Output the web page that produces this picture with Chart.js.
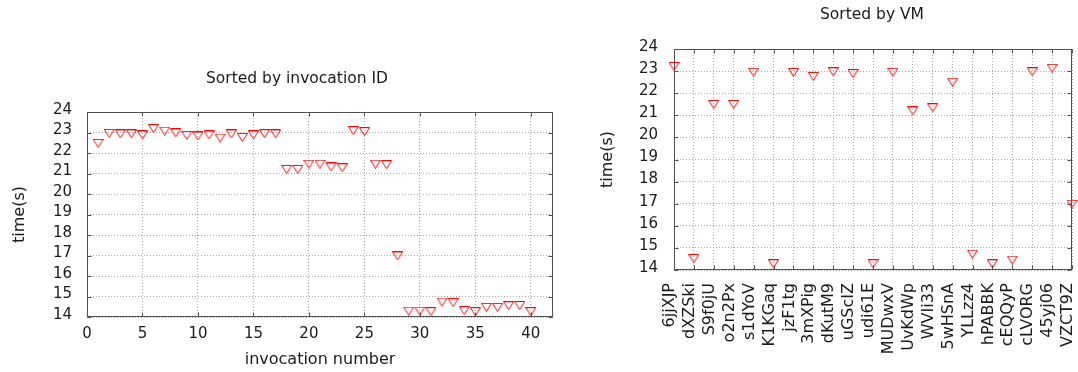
<!DOCTYPE html>
<html>
<head>
<meta charset="utf-8">
<script src="https://cdn.jsdelivr.net/npm/chart.js@4.4.1/dist/chart.umd.min.js"></script>
<style>
    html, body { margin: 0; padding: 0; background: #fff; }
    #wrap { position: relative; width: 1078px; height: 372px; overflow: hidden; }
    canvas { position: absolute; top: 0; }
    #chart-left  { left: 0; }
    #chart-right { left: 580px; }
</style>
</head>
<body>
<div id="wrap">
    <canvas id="chart-left" width="580" height="372"></canvas>
    <canvas id="chart-right" width="498" height="372"></canvas>
</div>
<script>
// ── Data ─────────────────────────────────────────────────────
const invocationNumbers = [1, 2, 3, 4, 5, 6, 7, 8, 9, 10, 11, 12, 13, 14, 15, 16, 17, 18, 19, 20,
                           21, 22, 23, 24, 25, 26, 27, 28, 29, 30, 31, 32, 33, 34, 35, 36, 37, 38, 39, 40];
const invocationTimes   = [22.47, 22.96, 22.93, 22.93, 22.88, 23.19, 23.07, 22.98, 22.86, 22.83,
                           22.88, 22.73, 22.93, 22.76, 22.88, 22.94, 22.93, 21.20, 21.20, 21.46,
                           21.46, 21.32, 21.28, 23.09, 23.04, 21.46, 21.43, 16.98, 14.29, 14.29,
                           14.26, 14.73, 14.70, 14.31, 14.26, 14.47, 14.47, 14.55, 14.56, 14.26];

const vmNames = ['6jjXJP', 'dXZSki', 'S9f0jU', 'o2n2Px', 's1dYoV', 'K1KGaq', 'jzF1tg', '3mXPig',
                 'dKutM9', 'uGScIZ', 'udi61E', 'MUDwxV', 'UvKdWp', 'WVIi33', '5wHSnA', 'YLLzz4',
                 'hPABBK', 'cEQQyP', 'cLVORG', '45yj06', 'VZCT9Z'];
const vmTimes = [23.21, 14.52, 21.49, 21.49, 22.95, 14.28, 22.94, 22.76, 22.97, 22.89, 14.28,
                 22.95, 21.20, 21.34, 22.50, 14.72, 14.28, 14.45, 22.97, 23.13, 16.98];

const timeTicks = { min: 14, max: 24, step: 1 };
const invTicks  = { min: 0, max: 42, step: 5 };

// ── Common look ──────────────────────────────────────────────
const FAMILY = "'DejaVu Sans', Verdana, sans-serif";
const TICK_FONT  = { family: FAMILY, size: 15 };
const VM_FONT    = { family: FAMILY, size: 16 };
const TITLE_FONT = { family: FAMILY, size: 16 };
const TEXT = '#1a1a1a';
const GRID = '#a8a8a8';
const BORDER = '#505050';
Chart.defaults.font.family = FAMILY;
Chart.defaults.color = TEXT;

// hollow down-triangle marker, gnuplot style
const marker = document.createElement('canvas');
marker.width = 11; marker.height = 9;
(() => {
    const c = marker.getContext('2d');
    c.strokeStyle = '#ff0000';
    c.lineWidth = 1;
    c.beginPath();
    c.moveTo(0.5, 0.5); c.lineTo(10.5, 0.5); c.lineTo(5.5, 8.5); c.closePath();
    c.stroke();
})();

// box round the plot + small inward ticks on all four sides
const frame = {
    id: 'frame',
    beforeDatasetsDraw(chart) {
        const { ctx, chartArea: a, scales } = chart;
        const px = v => Math.round(v) + 0.5;
        const L = px(a.left), R = px(a.right) - 1, T = px(a.top), B = px(a.bottom) - 1;
        ctx.save();
        ctx.strokeStyle = BORDER;
        ctx.lineWidth = 1;
        ctx.beginPath();
        scales.y.ticks.forEach((t, i) => {
            const y = px(scales.y.getPixelForTick(i));
            ctx.moveTo(L, y); ctx.lineTo(L + 4, y);
            ctx.moveTo(R, y); ctx.lineTo(R - 4, y);
        });
        scales.x.ticks.forEach((t, i) => {
            const x = px(scales.x.getPixelForTick(i));
            ctx.moveTo(x, B); ctx.lineTo(x, B - 4);
            ctx.moveTo(x, T); ctx.lineTo(x, T + 4);
        });
        ctx.stroke();
        ctx.strokeRect(L, T, R - L, B - T);
        ctx.restore();
    }
};

// plot title at a fixed spot (gnuplot centres it on the page, not the plot)
const fixedTitle = {
    id: 'fixedTitle',
    afterDraw(chart, args, opts) {
        const ctx = chart.ctx;
        ctx.save();
        ctx.font = `15.5px ${FAMILY}`;
        ctx.fillStyle = TEXT;
        ctx.textAlign = 'center';
        ctx.textBaseline = 'middle';
        ctx.fillText(opts.text, opts.x, opts.y);
        ctx.restore();
    }
};

const dotted = { color: GRID, lineWidth: 1, drawTicks: false };
const noBorder = { display: false, dash: [1, 2] };

// ── Left: sorted by invocation ID ────────────────────────────
new Chart(document.getElementById('chart-left'), {
    type: 'scatter',
    data: {
        datasets: [{
            data: invocationNumbers.map((n, i) => ({ x: n, y: invocationTimes[i] })),
            pointStyle: marker, pointRadius: 5, pointHoverRadius: 5
        }]
    },
    options: {
        responsive: false, animation: false, events: [],
        layout: { padding: { top: 112, right: 27, left: 0, bottom: 0 } },
        plugins: {
            legend: { display: false }, tooltip: { enabled: false },
            fixedTitle: { text: 'Sorted by invocation ID', x: 297, y: 79 }
        },
        scales: {
            x: {
                type: 'linear', min: invTicks.min, max: invTicks.max,
                grid: dotted, border: noBorder,
                ticks: { stepSize: invTicks.step, includeBounds: false, padding: 8, font: TICK_FONT },
                title: { display: true, text: 'invocation number', font: TITLE_FONT, padding: { top: 0, bottom: 3 } },
                afterFit(s) { s.height = 55; s.paddingLeft = 0; s.paddingRight = 0; }
            },
            y: {
                min: timeTicks.min, max: timeTicks.max,
                grid: dotted, border: noBorder,
                ticks: { stepSize: timeTicks.step, autoSkip: false, padding: 15, labelOffset: -2, font: TICK_FONT },
                title: { display: true, text: 'time(s)', font: TITLE_FONT, padding: { top: 10, bottom: 0 } },
                afterFit(s) { s.width = 87; s.paddingTop = 0; s.paddingBottom = 0; }
            }
        }
    },
    plugins: [frame, fixedTitle]
});

// ── Right: sorted by VM ──────────────────────────────────────
new Chart(document.getElementById('chart-right'), {
    type: 'line',
    data: {
        labels: vmNames,
        datasets: [{
            data: vmTimes, showLine: false,
            pointStyle: marker, pointRadius: 5, pointHoverRadius: 5
        }]
    },
    options: {
        responsive: false, animation: false, events: [],
        layout: { padding: { top: 49, right: 4, left: 0, bottom: 0 } },
        plugins: {
            legend: { display: false }, tooltip: { enabled: false },
            fixedTitle: { text: 'Sorted by VM', x: 292, y: 15 }
        },
        scales: {
            x: {
                type: 'category', offset: false,
                grid: { ...dotted, offset: false }, border: noBorder,
                ticks: { autoSkip: false, minRotation: 90, maxRotation: 90, padding: 13, labelOffset: -4, font: VM_FONT },
                afterFit(s) { s.height = 102; s.paddingLeft = 0; s.paddingRight = 0; }
            },
            y: {
                min: timeTicks.min, max: timeTicks.max,
                grid: dotted, border: noBorder,
                ticks: { stepSize: timeTicks.step, autoSkip: false, padding: 16, labelOffset: -2, font: TICK_FONT },
                title: { display: true, text: 'time(s)', font: TITLE_FONT, padding: { top: 18, bottom: 0 } },
                afterFit(s) { s.width = 94; s.paddingTop = 0; s.paddingBottom = 0; }
            }
        }
    },
    plugins: [frame, fixedTitle]
});
</script>
</body>
</html>
